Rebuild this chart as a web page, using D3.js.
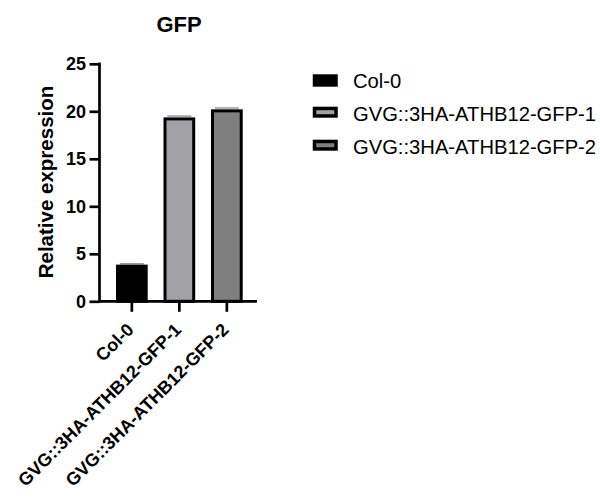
<!DOCTYPE html>
<html><head><meta charset="utf-8">
<script src="https://cdn.jsdelivr.net/npm/d3@7"></script>
<style>body{margin:0;background:#fff;} text{font-family:"Liberation Sans",Arial,sans-serif;}</style>
</head><body>
<svg id="c" width="600" height="504"></svg>
<script>
const categories = ["Col-0", "GVG::3HA-ATHB12-GFP-1", "GVG::3HA-ATHB12-GFP-2"];
const values = [3.7, 19.2, 20.05];
const errors = [0.25, 0.3, 0.3];
const colors = ["#000000", "#a2a1a6", "#7f7f7f"];
const yTicks = [0, 5, 10, 15, 20, 25];

const svg = d3.select("#c");
const x = d3.scaleBand().domain(categories).range([108.1, 250.6]).padding(0);
const y = d3.scaleLinear().domain([0, 25]).range([301.3, 63.8]);
const bw = 28.7;
const FF = "Liberation Sans, Arial, sans-serif";

// Title
svg.append("text").attr("x", 179).attr("y", 32).attr("text-anchor", "middle")
  .attr("font-size", 22).attr("font-weight", "bold").text("GFP");

// Error bars (caps, drawn behind bars)
categories.forEach((d, i) => {
  const cx = x(d) + x.bandwidth() / 2;
  svg.append("line").attr("x1", cx - 12).attr("x2", cx + 12)
    .attr("y1", y(values[i] + errors[i])).attr("y2", y(values[i] + errors[i]))
    .attr("stroke", "#808080").attr("stroke-width", 1.2);
});

// Bars
svg.selectAll("rect.bar").data(categories).enter().append("rect")
  .attr("class", "bar")
  .attr("x", d => x(d) + x.bandwidth() / 2 - bw / 2)
  .attr("y", (d, i) => y(values[i]))
  .attr("width", bw)
  .attr("height", (d, i) => y(0) - y(values[i]))
  .attr("fill", (d, i) => colors[i])
  .attr("stroke", "#000").attr("stroke-width", 3);

// Y axis
const yAxis = d3.axisLeft(y).tickValues(yTicks).tickSize(10).tickPadding(3.5);
const gy = svg.append("g").attr("transform", "translate(99.5,0)").call(yAxis);
gy.select(".domain").attr("stroke-width", 2.7).attr("d", `M0,${y(25)-1.3}V${y(0)+1.3}`);
gy.selectAll(".tick line").attr("stroke-width", 2.7);
gy.selectAll(".tick text").attr("font-size", 18).attr("font-weight", "bold")
  .attr("font-family", FF).attr("fill", "#000");

// X axis
const xAxis = d3.axisBottom(x).tickSize(10.5).tickPadding(6);
const gx = svg.append("g").attr("transform", `translate(0,${y(0)})`).call(xAxis);
gx.select(".domain").attr("stroke-width", 2.7).attr("d", "M98.2,0H257");
gx.selectAll(".tick line").attr("stroke-width", 2.7);
gx.selectAll(".tick text").attr("font-size", 18).attr("font-weight", "bold")
  .attr("font-family", FF).attr("fill", "#000")
  .attr("text-anchor", "end").attr("dy", null)
  .attr("transform", "translate(3,29.5) rotate(-45)")
  .attr("y", 0).attr("x", 0);

// Y label
svg.append("text").attr("transform", "translate(52.5,182) rotate(-90)")
  .attr("text-anchor", "middle").attr("font-size", 20.5).attr("font-weight", "bold")
  .text("Relative expression");

// Legend
const lg = svg.append("g");
const rowY = [74.3, 106.7, 139.7];
const rowH = [12.4, 11, 11];
categories.forEach((d, i) => {
  lg.append("rect").attr("x", 314.5).attr("y", rowY[i] + 1.75).attr("width", 21.5).attr("height", rowH[i] - 3.5)
    .attr("fill", colors[i]).attr("stroke", "#000").attr("stroke-width", 3.5);
  lg.append("text").attr("x", 353).attr("y", 87.5 + i * 33).attr("font-size", 20.2).attr("fill", "#000").text(d);
});
</script>
</body></html>
